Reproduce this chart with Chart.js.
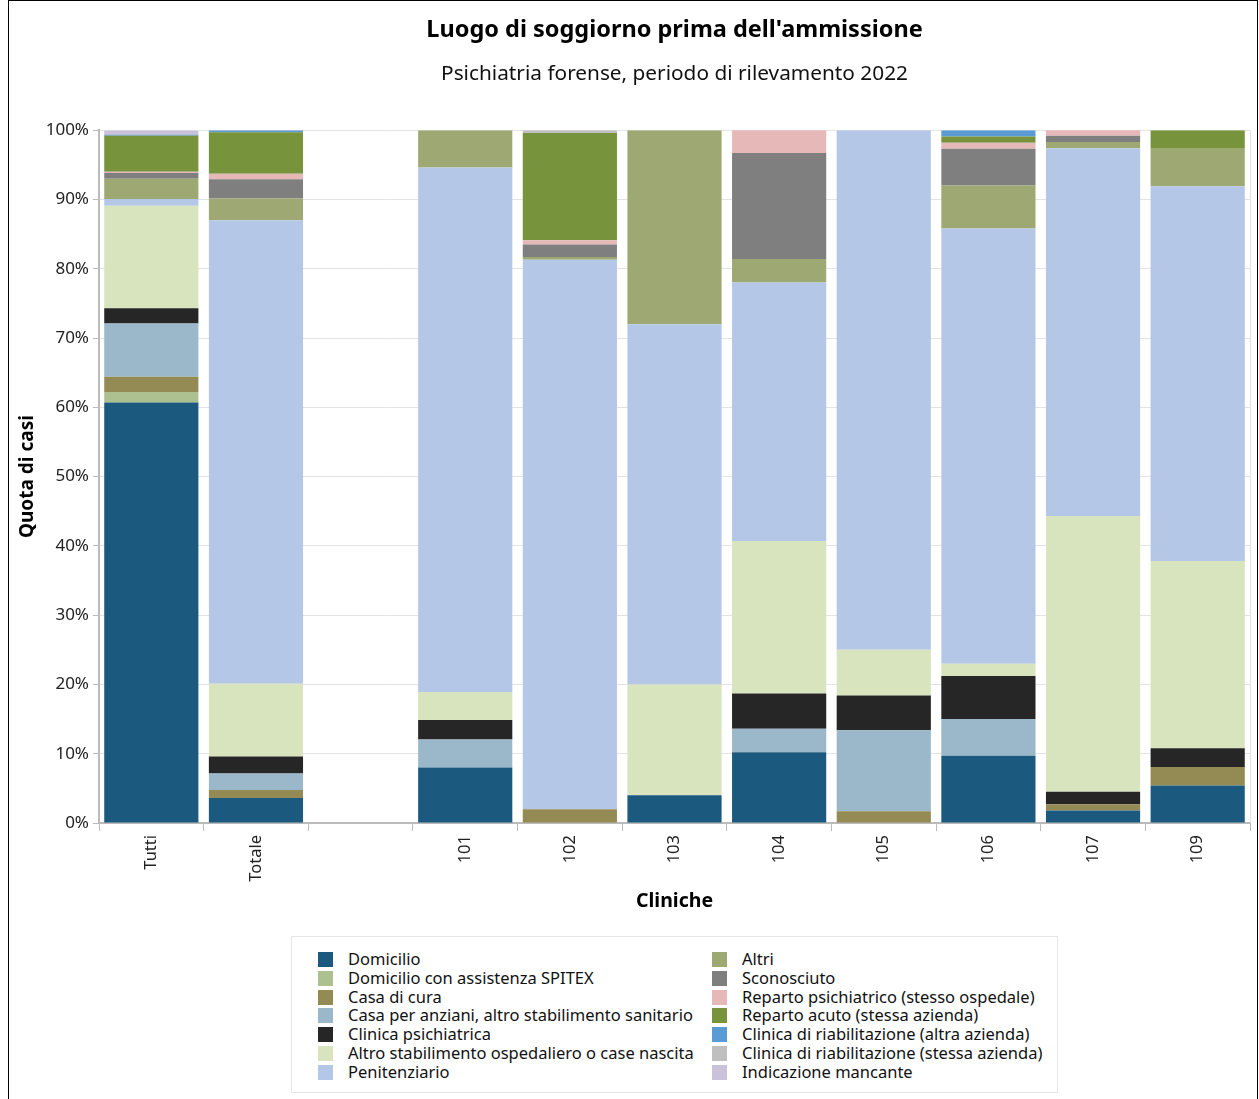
<!DOCTYPE html>
<html>
<head>
<meta charset="utf-8">
<script src="https://cdn.jsdelivr.net/npm/chart.js@4/dist/chart.umd.min.js"></script>
<style>
  body { margin: 0; background: #fff; font-family: "Noto Sans", sans-serif; }
  #frame { position: absolute; left: 8px; top: 0; width: 1250px; height: 1120px; border: 1.5px solid #000; border-bottom: none; box-sizing: border-box; }
  #chartBox { position: absolute; left: 0; top: 0; width: 1259px; height: 930px; }
  #legend { position: absolute; left: 291px; top: 936px; width: 767px; height: 157px; border: 1px solid #e6e6e6; box-sizing: border-box;
            display: grid; grid-template-rows: repeat(7, 18.8px); grid-auto-flow: column; grid-template-columns: 394px 340px; padding: 13px 0 0 26px; }
  .item { font-size: 16.5px; line-height: 18.8px; color: #111; white-space: nowrap; }
  .sw { display: inline-block; width: 15px; height: 15px; vertical-align: -2px; margin-right: 15px; }
</style>
</head>
<body>
<div id="frame"></div>
<div id="chartBox"><canvas id="chart" width="1259" height="930"></canvas></div>
<div id="legend"></div>
<script>
// categories (empty slot separates the totals from the clinics)
var categories = ['Tutti', 'Totale', '', '101', '102', '103', '104', '105', '106', '107', '109'];

// shares in percent, one array per place of stay
var domicilio      = [60.7, 3.6,  null, 8.0,  0,    4.0,  10.2, 0,    9.7,  1.8,  5.4];
var spitex         = [1.5,  0,    null, 0,    0,    0,    0,    0,    0,    0,    0];
var casaCura       = [2.2,  1.15, null, 0,    2.0,  0,    0,    1.7,  0,    0.9,  2.7];
var casaAnziani    = [7.7,  2.4,  null, 4.05, 0,    0,    3.4,  11.7, 5.3,  0,    0];
var clinicaPsich   = [2.2,  2.45, null, 2.8,  0,    0,    5.1,  5.0,  6.2,  1.8,  2.7];
var altroStab      = [14.8, 10.5, null, 4.05, 0,    16.0, 22.0, 6.6,  1.8,  39.8, 27.0];
var penitenziario  = [0.95, 66.9, null, 75.7, 79.3, 52.0, 37.3, 75.0, 62.8, 53.1, 54.1];
var altri          = [2.95, 3.15, null, 5.4,  0.4,  28.0, 3.4,  0,    6.2,  0.9,  5.4];
var sconosciuto    = [0.8,  2.75, null, 0,    1.8,  0,    15.3, 0,    5.3,  0.9,  0];
var repPsich       = [0.2,  0.8,  null, 0,    0.6,  0,    3.4,  0,    0.9,  0.9,  0];
var repAcuto       = [5.2,  6.0,  null, 0,    15.5, 0,    0,    0,    0.9,  0,    2.7];
var riabAltra      = [0.15, 0.3,  null, 0,    0,    0,    0,    0,    0.9,  0,    0];
var riabStessa     = [0.1,  0,    null, 0,    0.4,  0,    0,    0,    0,    0,    0];
var mancante       = [0.5,  0,    null, 0,    0,    0,    0,    0,    0,    0,    0];

var yTicks = [0, 10, 20, 30, 40, 50, 60, 70, 80, 90, 100];

var series = [
  ['Domicilio', domicilio, '#1b5a7e'],
  ['Domicilio con assistenza SPITEX', spitex, '#adc190'],
  ['Casa di cura', casaCura, '#938a54'],
  ['Casa per anziani, altro stabilimento sanitario', casaAnziani, '#9ab8c9'],
  ['Clinica psichiatrica', clinicaPsich, '#262626'],
  ['Altro stabilimento ospedaliero o case nascita', altroStab, '#d8e4bd'],
  ['Penitenziario', penitenziario, '#b4c7e7'],
  ['Altri', altri, '#9ea872'],
  ['Sconosciuto', sconosciuto, '#7f7f7f'],
  ['Reparto psichiatrico (stesso ospedale)', repPsich, '#e6b9b8'],
  ['Reparto acuto (stessa azienda)', repAcuto, '#77933c'],
  ['Clinica di riabilitazione (altra azienda)', riabAltra, '#5b9bd5'],
  ['Clinica di riabilitazione (stessa azienda)', riabStessa, '#bfbfbf'],
  ['Indicazione mancante', mancante, '#ccc1da']
];

Chart.defaults.font.family = '"Noto Sans", sans-serif';
Chart.defaults.color = '#222';

var rightEdge = {
  id: 'rightEdge',
  afterDraw: function(chart) {
    var a = chart.chartArea, c = chart.ctx;
    c.save();
    c.strokeStyle = '#e3e3e3';
    c.lineWidth = 1;
    c.beginPath();
    c.moveTo(a.right + 0.5, a.top);
    c.lineTo(a.right + 0.5, a.bottom);
    c.stroke();
    c.restore();
  }
};

var ctx = document.getElementById('chart').getContext('2d');
var chart = new Chart(ctx, {
  type: 'bar',
  data: {
    labels: categories,
    datasets: series.map(function(s) {
      return {
        label: s[0],
        data: s[1],
        backgroundColor: s[2],
        borderWidth: 0,
        barPercentage: 0.9,
        categoryPercentage: 1.0
      };
    })
  },
  options: {
    responsive: false,
    animation: false,
    layout: { padding: { left: 0, right: 9, top: 0, bottom: 0 } },
    plugins: {
      legend: { display: false },
      tooltip: { enabled: false },
      title: {
        display: true,
        fullSize: false,
        text: "Luogo di soggiorno prima dell'ammissione",
        color: '#000',
        font: { size: 23.5, weight: 'bold' },
        padding: { top: 16, bottom: 17 }
      },
      subtitle: {
        display: true,
        fullSize: false,
        text: 'Psichiatria forense, periodo di rilevamento 2022',
        color: '#111',
        font: { size: 20.8 },
        padding: { top: 0, bottom: 44 }
      }
    },
    scales: {
      x: {
        stacked: true,
        grid: { offset: true, drawOnChartArea: false, tickLength: 8, color: '#bbb' },
        border: { color: '#bbb', width: 2 },
        ticks: { minRotation: 90, maxRotation: 90, font: { size: 16.5 }, padding: 4 },
        title: { display: true, text: 'Cliniche', color: '#000', font: { size: 19.5, weight: 'bold' }, padding: { top: 0, bottom: 17 } },
        afterFit: function(s) { s.height = 107; }
      },
      y: {
        stacked: true,
        min: 0,
        max: 100,
        afterBuildTicks: function(s) { s.ticks = yTicks.map(function(v) { return { value: v }; }); },
        ticks: { font: { size: 17 }, padding: 4, callback: function(v) { return v + '%'; } },
        grid: { color: '#e3e3e3', tickLength: 6, tickColor: '#bbb' },
        border: { color: '#bbb', width: 2 },
        title: { display: true, text: 'Quota di casi', color: '#000', font: { size: 19, weight: 'bold' }, padding: { top: 16, bottom: 0 } },
        afterFit: function(s) { s.width = 99; }
      }
    }
  },
  plugins: [rightEdge]
});

// legend, column by column like the original
var legendEl = document.getElementById('legend');
chart.data.datasets.forEach(function(ds) {
  var item = document.createElement('div');
  item.className = 'item';
  var sw = document.createElement('span');
  sw.className = 'sw';
  sw.style.background = ds.backgroundColor;
  item.appendChild(sw);
  item.appendChild(document.createTextNode(ds.label));
  legendEl.appendChild(item);
});
</script>
</body>
</html>
